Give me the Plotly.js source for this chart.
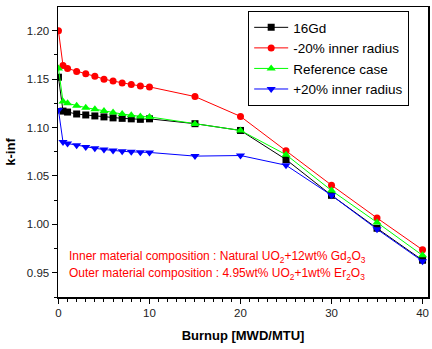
<!DOCTYPE html>
<html><head><meta charset="utf-8">
<script src="https://cdn.plot.ly/plotly-3.0.1.min.js"></script>
<style>html,body{margin:0;padding:0;background:#fff}</style>
</head><body><div id="chart" style="width:432px;height:349px"></div>
<script>
const burnup = [0, 0.5, 1, 2, 3, 4, 5, 6, 7, 8, 9, 10, 15, 20, 25, 30, 35, 40];
const gd16   = [1.152, 1.117, 1.116, 1.114, 1.113, 1.112, 1.111, 1.110, 1.1095, 1.109, 1.1085, 1.109, 1.104, 1.097, 1.067, 1.030, 0.996, 0.963];
const minus20 = [1.200, 1.164, 1.161, 1.158, 1.1555, 1.153, 1.150, 1.148, 1.146, 1.1445, 1.143, 1.142, 1.132, 1.1115, 1.076, 1.0405, 1.0066, 0.9737];
const refCase = [1.161, 1.127, 1.125, 1.1225, 1.1205, 1.119, 1.117, 1.1156, 1.114, 1.1126, 1.1115, 1.111, 1.1037, 1.097, 1.072, 1.035, 1.002, 0.968];
const plus20  = [1.118, 1.085, 1.0835, 1.0817, 1.080, 1.0786, 1.0773, 1.0762, 1.0755, 1.0749, 1.0745, 1.0743, 1.0705, 1.0711, 1.0611, 1.030, 0.995, 0.962];
const names = ['16Gd', '-20% inner radius', 'Reference case', '+20% inner radius'];
const xTitle = 'Burnup [MWD/MTU]';
const yTitle = 'k-inf';
const note1 = 'Inner material composition : Natural UO<sub>2</sub>+12wt% Gd<sub>2</sub>O<sub>3</sub>';
const note2 = 'Outer material composition : 4.95wt% UO<sub>2</sub>+1wt% Er<sub>2</sub>O<sub>3</sub>';

const FONT = 'Arial, "Liberation Sans", sans-serif';
function tr(y, name, color, symbol, size){
  return {x: burnup, y: y, name: name, type: 'scatter', mode: 'lines+markers',
    line: {color: color, width: 1}, marker: {color: color, symbol: symbol, size: size}};
}
const data = [
  tr(gd16, names[0], '#000000', 'square', 7),
  tr(minus20, names[1], '#ff0000', 'circle', 7),
  tr(refCase, names[2], '#00ff00', 'triangle-up', 8),
  tr(plus20, names[3], '#0000ff', 'triangle-down', 8),
];
const layout = {
  width: 432, height: 349,
  margin: {l: 58, r: 4, t: 7, b: 52},
  paper_bgcolor: '#fff', plot_bgcolor: '#fff',
  font: {family: FONT, size: 11, color: '#222'},
  showlegend: true,
  legend: {x: 0.514, y: 0.986, xanchor: 'left', yanchor: 'top', bgcolor: '#fff',
    bordercolor: '#000', borderwidth: 1, font: {family: FONT, size: 13.5, color: '#000'},
    tracegroupgap: 0, itemwidth: 34},
  xaxis: {range: [-0.05, 40.6], tickvals: [0, 10, 20, 30, 40], ticks: 'outside', ticklen: 5,
    tickcolor: '#000', linecolor: '#000', linewidth: 1.5, showline: true, mirror: true,
    showgrid: false, zeroline: false,
    minor: {dtick: 1, ticks: 'outside', ticklen: 3, tickcolor: '#000', showgrid: false},
    tickfont: {size: 11.5, color: '#222'},
    title: {text: '<b>' + xTitle + '</b>', font: {size: 13, color: '#000'}, standoff: 12}},
  yaxis: {range: [0.925, 1.2245], tickvals: [0.95, 1.00, 1.05, 1.10, 1.15, 1.20], ticktext: ['0.95','1.00','1.05','1.10','1.15','1.20'],
    ticks: 'outside', ticklen: 5, tickcolor: '#000', linecolor: '#000', linewidth: 1.5,
    showline: true, mirror: true, showgrid: false, zeroline: false,
    minor: {dtick: 0.025, ticks: 'outside', ticklen: 3, tickcolor: '#000', showgrid: false},
    tickfont: {size: 11.5, color: '#222'},
    title: {text: '<b>' + yTitle + '</b>', font: {size: 13, color: '#000'}, standoff: 8}},
  annotations: [
    {xref: 'paper', yref: 'paper', x: 0.025, y: 0.137, xanchor: 'left', yanchor: 'middle', showarrow: false,
      text: note1, font: {family: FONT, size: 12, color: '#ff0000'}},
    {xref: 'paper', yref: 'paper', x: 0.025, y: 0.078, xanchor: 'left', yanchor: 'middle', showarrow: false,
      text: note2, font: {family: FONT, size: 12, color: '#ff0000'}}
  ]
};
Plotly.newPlot('chart', data, layout, {displayModeBar: false, staticPlot: true});
</script></body></html>
